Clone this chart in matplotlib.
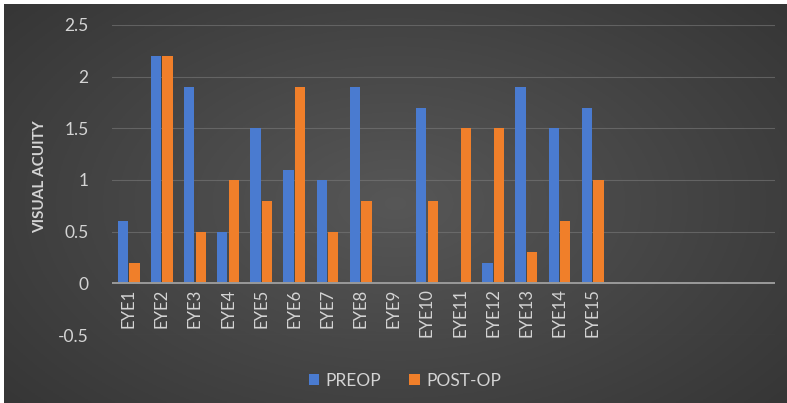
import numpy as np
import matplotlib.pyplot as plt

plt.rcParams['font.family'] = ['Lato', 'DejaVu Sans']

# visual acuity per eye, before and after surgery
eyes = ['EYE1', 'EYE2', 'EYE3', 'EYE4', 'EYE5', 'EYE6', 'EYE7', 'EYE8',
        'EYE9', 'EYE10', 'EYE11', 'EYE12', 'EYE13', 'EYE14', 'EYE15']
preop = [0.6, 2.2, 1.9, 0.5, 1.5, 1.1, 1.0, 1.9, 0, 1.7, 0, 0.2, 1.9, 1.5, 1.7]
postop = [0.2, 2.2, 0.5, 1.0, 0.8, 1.9, 0.5, 0.8, 0, 0.8, 1.5, 1.5, 0.3, 0.6, 1.0]
n_slots = 20  # axis keeps room for five empty categories
yticks = [-0.5, 0, 0.5, 1, 1.5, 2, 2.5]

txt = '#d4d4d4'
blue = '#4a7bd0'
orange = '#f07f2a'

fig = plt.figure(figsize=(7.87, 4.03), dpi=100)
fig.patch.set_facecolor('white')

# dark background with a soft radial highlight
bg = fig.add_axes([4 / 787, 0, 783 / 787, 399 / 403])
yy, xx = np.mgrid[-1:1:200j, -1:1:400j]
r = np.sqrt((xx / 1.1) ** 2 + (yy / 1.3) ** 2)
shade = 0.34 - 0.14 * np.clip(r, 0, 1.3) / 1.3
bg.imshow(np.dstack([shade] * 3), aspect='auto', extent=[0, 1, 0, 1])
bg.set_axis_off()

ax = fig.add_axes([112 / 787, (403 - 335) / 403, 663 / 787, 310 / 403])
ax.patch.set_alpha(0)

x = np.arange(len(eyes))
w = 0.31
ax.bar(x - w / 2 - 0.02, preop, w, color=blue, zorder=3, label='PREOP')
ax.bar(x + w / 2 + 0.02, postop, w, color=orange, zorder=3, label='POST-OP')

ax.set_xlim(-0.5, n_slots - 0.5)
ax.set_ylim(-0.5, 2.5)
ax.set_yticks(yticks)
ax.set_yticklabels(['-0.5', '0', '0.5', '1', '1.5', '2', '2.5'])
ax.tick_params(axis='y', length=0, pad=17, labelcolor=txt, labelsize=12.5)
ax.set_xticks([])
for s in ax.spines.values():
    s.set_visible(False)

for t in yticks:
    if t != 0:
        ax.axhline(t, color='#7a7a7a', lw=0.8, alpha=0.6, zorder=1)
ax.axhline(0, color='#9a9a9a', lw=1.4, zorder=4)

for xi, name in zip(x, eyes):
    ax.text(xi, -0.05, name, rotation=90, ha='center', va='top',
            color=txt, fontsize=12)

fig.text(40 / 787, 1 - 177 / 403, 'VISUAL ACUITY', rotation=90, ha='center',
         va='center', color=txt, fontsize=11, fontweight='bold')

leg = fig.legend(loc='center', bbox_to_anchor=(405 / 787, 1 - 381 / 403), ncol=2,
                 frameon=False, fontsize=12.5, handlelength=0.6, handleheight=0.6,
                 handletextpad=0.4, columnspacing=1.6)
for t in leg.get_texts():
    t.set_color(txt)

fig.savefig('out.png', dpi=100, facecolor=fig.get_facecolor())
